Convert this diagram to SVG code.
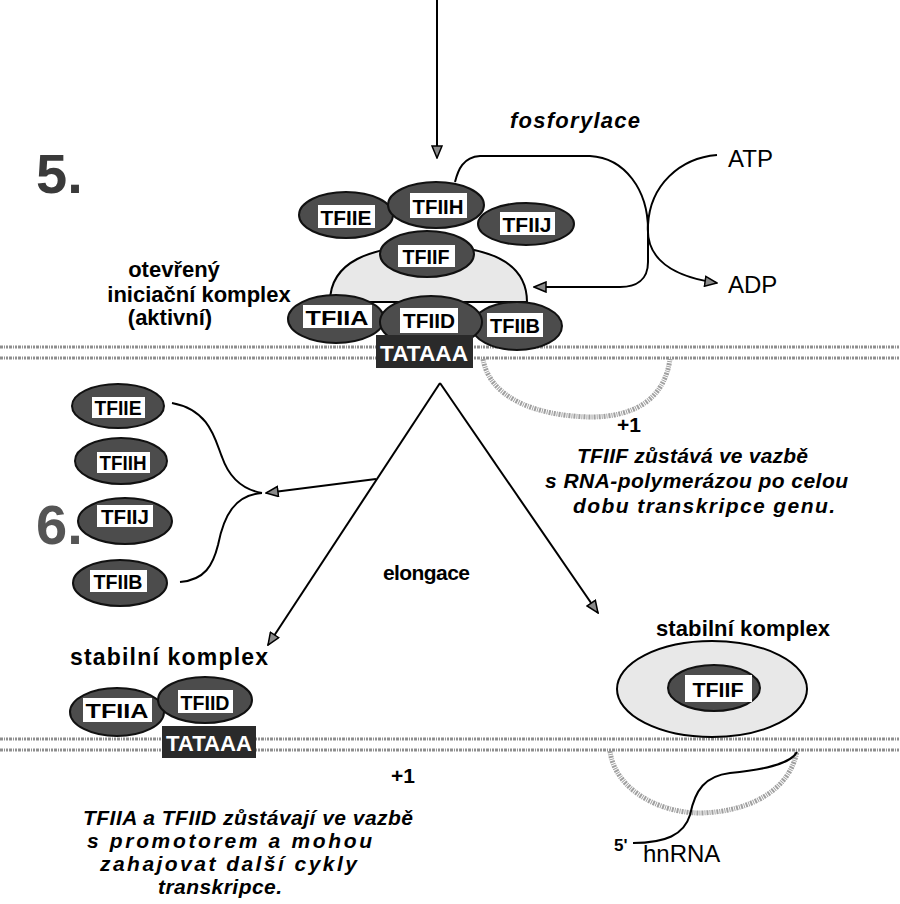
<svg xmlns="http://www.w3.org/2000/svg" width="900" height="904" viewBox="0 0 900 904">
  <style>
    .f { fill: #4c4c4c; stroke: #111; stroke-width: 2; }
    .box { fill: #fff; }
    .lbl { font-family: "Liberation Sans", Arial, sans-serif; font-weight: bold; font-size: 20px; fill: #000; text-anchor: middle; }
    .t { font-family: "Liberation Sans", Arial, sans-serif; font-weight: bold; font-size: 21px; fill: #000; }
    .it { font-family: "Liberation Sans", Arial, sans-serif; font-weight: bold; font-style: italic; font-size: 21px; fill: #000; }
    .rg { font-family: "Liberation Sans", Arial, sans-serif; font-size: 24px; fill: #000; }
    .big { font-family: "Liberation Sans", Arial, sans-serif; font-weight: bold; font-size: 56px; }
    .ln { fill: none; stroke: #000; stroke-width: 2; }
    .dna { fill: none; stroke: #8f8f8f; stroke-width: 3; stroke-dasharray: 3 1 1 1 2 1; }
    .bub { fill: none; stroke: #a0a0a0; stroke-width: 5; stroke-dasharray: 2 1 1 1; }
    .dome { fill: #e8e8e8; stroke: #000; stroke-width: 2; }
    .tata { fill: #2a2a2a; }
    .tatat { font-family: "Liberation Sans", Arial, sans-serif; font-weight: bold; font-size: 22px; fill: #fff; text-anchor: middle; }
  </style>
  <defs>
    <marker id="ah" markerUnits="userSpaceOnUse" markerWidth="14" markerHeight="12" refX="13" refY="6" orient="auto">
      <path d="M1,1 L13,6 L1,11 Z" fill="#8a8a8a" stroke="#000" stroke-width="1.5"/>
    </marker>
  </defs>
  <rect width="900" height="904" fill="#fff"/>

  <!-- DNA strands with transcription bubbles -->
  <g id="dna">
    <line class="dna" x1="0" y1="347" x2="900" y2="347"/>
    <line class="dna" x1="0" y1="358" x2="900" y2="358"/>
    <path class="bub" d="M483,359 C490,400 540,416 590,417 C640,417 665,395 670,359"/>
    <line class="dna" x1="0" y1="739" x2="900" y2="739"/>
    <line class="dna" x1="0" y1="750" x2="900" y2="750"/>
    <path class="bub" d="M610,751 C615,790 660,813 700,813 C750,812 790,790 797,751"/>
  </g>

  <!-- connectors -->
  <g id="connectors">
    <line class="ln" x1="437" y1="0" x2="437" y2="158" marker-end="url(#ah)"/>
    <path class="ln" d="M455,182 C458,170 463,157 480,156 L590,156 C625,158 648,190 648,230 L648,262 C648,280 636,287 620,287 L534,287" marker-end="url(#ah)"/>
    <path class="ln" d="M717,155 C680,158 650,185 648,225 C646,250 660,275 717,283" marker-end="url(#ah)"/>
    <path class="ln" d="M440,383 L268,645" marker-end="url(#ah)"/>
    <path class="ln" d="M440,383 L598,613" marker-end="url(#ah)"/>
    <path class="ln" d="M376,479 L266,493" marker-end="url(#ah)"/>
    <path class="ln" d="M172,403 C210,410 215,440 222,457 C230,480 245,490 262,493"/>
    <path class="ln" d="M180,582 C205,580 213,565 218,545 C224,515 235,495 262,493"/>
    <path class="ln" d="M797,752 C790,765 760,770 730,773 C705,776 695,790 690,815 C684,835 665,843 633,843"/>
  </g>

  <!-- step numbers -->
  <text class="big" x="36" y="193" fill="#3a3a3a">5.</text>
  <text class="big" x="36" y="544" fill="#555">6.</text>

  <!-- open initiation complex -->
  <g id="complex-open">
    <path class="dome" d="M330,302 C330,262 370,246 428,246 C490,246 527,262 527,302 Z"/>
    <g id="tfiie-top"><ellipse class="f" cx="346" cy="215" rx="47" ry="23"/><rect class="box" x="318" y="205" width="57" height="23"/><text class="lbl" x="346" y="225" textLength="51" lengthAdjust="spacingAndGlyphs">TFIIE</text></g>
    <g id="tfiij-top"><ellipse class="f" cx="526" cy="224" rx="48" ry="21"/><rect class="box" x="500" y="212" width="55" height="23"/><text class="lbl" x="527" y="232" textLength="49" lengthAdjust="spacingAndGlyphs">TFIIJ</text></g>
    <g id="tfiih-top"><ellipse class="f" cx="436" cy="205" rx="48" ry="23"/><rect class="box" x="410" y="193" width="57" height="25"/><text class="lbl" x="438" y="214" textLength="51" lengthAdjust="spacingAndGlyphs">TFIIH</text></g>
    <g id="tfiif-top"><ellipse class="f" cx="427" cy="254" rx="47" ry="23"/><rect class="box" x="398" y="245" width="57" height="22"/><text class="lbl" x="426" y="264" textLength="47" lengthAdjust="spacingAndGlyphs">TFIIF</text></g>
    <g id="tfiia-top"><ellipse class="f" cx="336" cy="319" rx="48" ry="24"/><rect class="box" x="303" y="305" width="69" height="23"/><text class="lbl" x="337" y="325" textLength="63" lengthAdjust="spacingAndGlyphs">TFIIA</text></g>
    <g id="tfiib-top"><ellipse class="f" cx="517" cy="326" rx="45" ry="24"/><rect class="box" x="487" y="313" width="56" height="24"/><text class="lbl" x="515" y="333" textLength="50" lengthAdjust="spacingAndGlyphs">TFIIB</text></g>
    <g id="tfiid-top"><ellipse class="f" cx="431" cy="322" rx="51" ry="26"/><rect class="box" x="400" y="308" width="58" height="25"/><text class="lbl" x="429" y="328" textLength="52" lengthAdjust="spacingAndGlyphs">TFIID</text></g>
    <g id="tata-top"><rect class="tata" x="376" y="335" width="97" height="33"/><text class="tatat" x="424" y="361" textLength="88" lengthAdjust="spacingAndGlyphs">TATAAA</text></g>
  </g>

  <!-- released factors -->
  <g id="tfiie-free"><ellipse class="f" cx="118" cy="406" rx="46" ry="22"/><rect class="box" x="92" y="397" width="53" height="21"/><text class="lbl" x="118" y="415" textLength="47" lengthAdjust="spacingAndGlyphs">TFIIE</text></g>
  <g id="tfiih-free"><ellipse class="f" cx="121" cy="461" rx="46" ry="23"/><rect class="box" x="97" y="452" width="53" height="21"/><text class="lbl" x="123" y="470" textLength="47" lengthAdjust="spacingAndGlyphs">TFIIH</text></g>
  <g id="tfiij-free"><ellipse class="f" cx="125" cy="521" rx="47" ry="23"/><rect class="box" x="97" y="505" width="56" height="22"/><text class="lbl" x="125" y="524" textLength="48" lengthAdjust="spacingAndGlyphs">TFIIJ</text></g>
  <g id="tfiib-free"><ellipse class="f" cx="120" cy="583" rx="47" ry="23"/><rect class="box" x="90" y="570" width="57" height="22"/><text class="lbl" x="118" y="589" textLength="49" lengthAdjust="spacingAndGlyphs">TFIIB</text></g>

  <!-- promoter-bound stable complex -->
  <g id="complex-promoter">
    <g id="tfiia-bot"><ellipse class="f" cx="117" cy="712" rx="47" ry="24"/><rect class="box" x="83" y="698" width="69" height="24"/><text class="lbl" x="117" y="718" textLength="63" lengthAdjust="spacingAndGlyphs">TFIIA</text></g>
    <g id="tfiid-bot"><ellipse class="f" cx="205" cy="700" rx="47" ry="23"/><rect class="box" x="178" y="690" width="55" height="23"/><text class="lbl" x="205" y="710" textLength="49" lengthAdjust="spacingAndGlyphs">TFIID</text></g>
    <g id="tata-bot"><rect class="tata" x="162" y="726" width="94" height="32"/><text class="tatat" x="209" y="751" textLength="86" lengthAdjust="spacingAndGlyphs">TATAAA</text></g>
  </g>

  <!-- polymerase-bound stable complex -->
  <g id="complex-polymerase">
    <ellipse class="dome" cx="712" cy="689" rx="95" ry="48"/>
    <g id="tfiif-bot"><ellipse class="f" cx="714" cy="688" rx="46" ry="23"/><rect class="box" x="685" y="675" width="67" height="27"/><text class="lbl" x="718" y="697" textLength="51" lengthAdjust="spacingAndGlyphs">TFIIF</text></g>
  </g>

  <!-- labels -->
  <text class="it" x="510" y="128" style="font-size:22px" textLength="130" lengthAdjust="spacing">fosforylace</text>
  <text class="rg" x="728" y="167">ATP</text>
  <text class="rg" x="728" y="293">ADP</text>
  <text class="t" x="174" y="277" text-anchor="middle" style="font-size:22px">otevřený</text>
  <text class="t" x="199" y="302" text-anchor="middle" style="font-size:22px">iniciační komplex</text>
  <text class="t" x="170" y="325" text-anchor="middle" style="font-size:22px">(aktivní)</text>
  <text class="t" x="617" y="432">+1</text>
  <text class="it" x="577" y="463" textLength="231" lengthAdjust="spacing">TFIIF zůstává ve vazbě</text>
  <text class="it" x="545" y="488" textLength="303" lengthAdjust="spacing">s RNA-polymerázou po celou</text>
  <text class="it" x="573" y="513" textLength="262" lengthAdjust="spacing">dobu transkripce genu.</text>
  <text class="t" x="383" y="580" textLength="87" lengthAdjust="spacing">elongace</text>
  <text class="t" x="656" y="636" style="font-size:22px" textLength="174" lengthAdjust="spacing">stabilní komplex</text>
  <text class="t" x="70" y="665" style="font-size:23px" textLength="198" lengthAdjust="spacing">stabilní komplex</text>
  <text class="t" x="391" y="783">+1</text>
  <text class="it" x="83" y="825" textLength="330" lengthAdjust="spacing">TFIIA a TFIID zůstávají ve vazbě</text>
  <text class="it" x="87" y="848" textLength="285" lengthAdjust="spacing">s promotorem a mohou</text>
  <text class="it" x="100" y="871" textLength="257" lengthAdjust="spacing">zahajovat další cykly</text>
  <text class="it" x="158" y="894" textLength="124" lengthAdjust="spacing">transkripce.</text>
  <text class="t" x="614" y="851" style="font-size:17px">5'</text>
  <text class="rg" x="643" y="862">hnRNA</text>
</svg>
